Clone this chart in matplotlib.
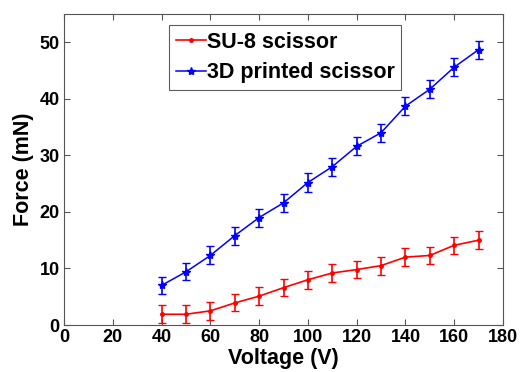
import numpy as np
import matplotlib
matplotlib.use('Agg')
import matplotlib.pyplot as plt

plt.rcParams['font.family'] = ['Liberation Sans', 'DejaVu Sans']
plt.rcParams['font.weight'] = 'bold'

# values
voltage = [40, 50, 60, 70, 80, 90, 100, 110, 120, 130, 140, 150, 160, 170]
su8_force = [1.9, 1.9, 2.5, 3.9, 5.1, 6.6, 8.0, 9.2, 9.8, 10.5, 12.0, 12.3, 14.1, 15.0]
su8_err = [1.6, 1.6, 1.6, 1.5, 1.6, 1.5, 1.6, 1.6, 1.5, 1.6, 1.6, 1.5, 1.5, 1.6]
printed_force = [7.0, 9.4, 12.3, 15.8, 19.0, 21.6, 25.2, 28.0, 31.6, 34.0, 38.7, 41.7, 45.6, 48.7]
printed_err = [1.5, 1.5, 1.6, 1.6, 1.6, 1.6, 1.6, 1.6, 1.6, 1.6, 1.6, 1.6, 1.6, 1.6]

fig = plt.figure(figsize=(5.32, 3.72), dpi=100)
ax = fig.add_axes([64/532, 1-325/372, 439/532, 311/372])

ax.errorbar(voltage, su8_force, yerr=su8_err, color='#ff0000', linestyle='none',
            elinewidth=1.2, capsize=3)
ax.errorbar(voltage, printed_force, yerr=printed_err, color='#0000ff', linestyle='none',
            elinewidth=1.2, capsize=3)
ax.plot(voltage, su8_force, color='#ff0000', marker='.', markersize=5,
        linewidth=1.2, label='SU-8 scissor')
ax.plot(voltage, printed_force, color='#0000ff', marker='*', markersize=6,
        linewidth=1.1, label='3D printed scissor')

ax.set_xlim(0, 180)
ax.set_ylim(0, 55)
ax.set_xticks(np.arange(0, 181, 20))
ax.set_yticks(np.arange(0, 51, 10))
ax.tick_params(direction='in', top=True, right=True, labelsize=13, length=4,
               color='#555555', pad=3)
for s in ax.spines.values():
    s.set_color('#555555')
    s.set_linewidth(0.8)

ax.set_xlabel('Voltage (V)', fontsize=15.5, fontweight='bold', labelpad=1.5)
ax.set_ylabel('Force (mN)', fontsize=15.5, fontweight='bold', labelpad=4)

leg = ax.legend(loc='upper left', bbox_to_anchor=(0.24, 0.964), fontsize=15.5,
                frameon=True, fancybox=False, handlelength=1.4, handletextpad=0.05,
                borderpad=0.3, labelspacing=0.45, borderaxespad=0)
leg.get_frame().set_edgecolor('#333333')
leg.get_frame().set_linewidth(0.8)

fig.savefig('out.png', dpi=100)
